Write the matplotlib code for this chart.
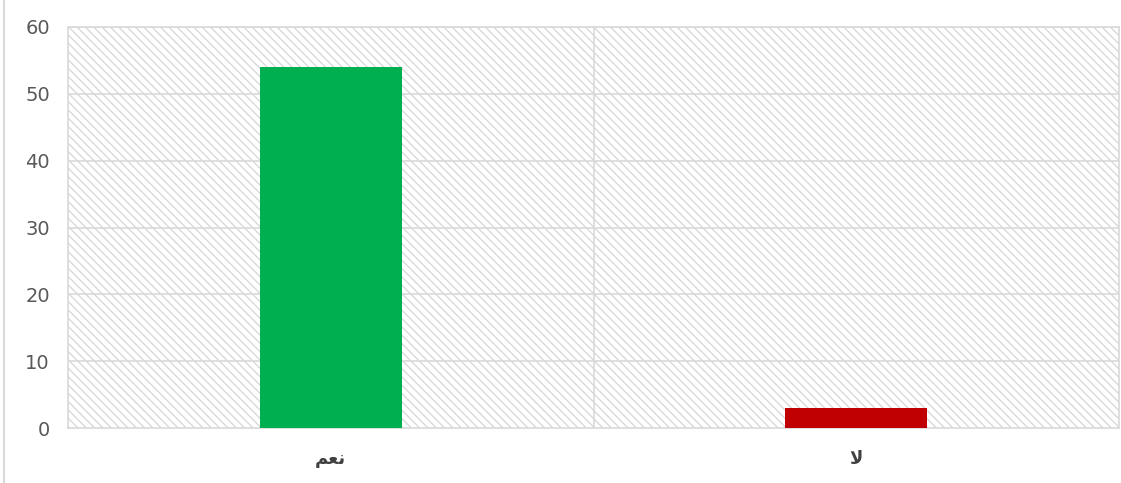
import matplotlib.pyplot as plt
from matplotlib.patches import Rectangle
from matplotlib.lines import Line2D

# Donnees du graphique
categories = ["\uFEE2\uFECC\uFEE7", "\uFEFB"]   # "نعم" et "لا" en formes de presentation
valeurs = [54, 3]
couleurs = ["#00b050", "#c00000"]
graduations = [0, 10, 20, 30, 40, 50, 60]

plt.rcParams["hatch.linewidth"] = 0.9
plt.rcParams["hatch.color"] = "#d6d6d6"

fig = plt.figure(figsize=(11.21, 4.83), dpi=100)
ax = fig.add_axes([68 / 1121, 55 / 483, 1051 / 1121, 401 / 483])

# fond hachure
fond = Rectangle((0, 0), 1, 1, transform=ax.transAxes, facecolor="white",
                 edgecolor="#d6d6d6", hatch="\\\\\\\\", linewidth=0, zorder=0)
ax.add_patch(fond)

x = list(range(len(categories)))
ax.bar(x, valeurs, width=0.27, color=couleurs, zorder=3)

ax.set_xlim(-0.5, 1.5)
ax.set_ylim(0, 60)
ax.set_yticks(graduations)
ax.set_xticks(x)
ax.set_xticklabels(categories, fontsize=13, fontweight="bold", color="#404040",
                   family=["DejaVu Sans"])
ax.tick_params(axis="y", labelsize=14, labelcolor="#595959", length=0, pad=13)
ax.tick_params(axis="x", length=0, pad=16)

for g in graduations[1:]:
    ax.axhline(g, color="#d9d9d9", linewidth=1.2, zorder=1)
ax.axvline(0.5, color="#d9d9d9", linewidth=1.2, zorder=1)

for s in ax.spines.values():
    s.set_color("#d9d9d9")
    s.set_linewidth(1.2)

fig.add_artist(Line2D([4 / 1121, 4 / 1121], [0, 1], color="#d9d9d9", linewidth=1.5))

fig.savefig("out.png", dpi=100)
